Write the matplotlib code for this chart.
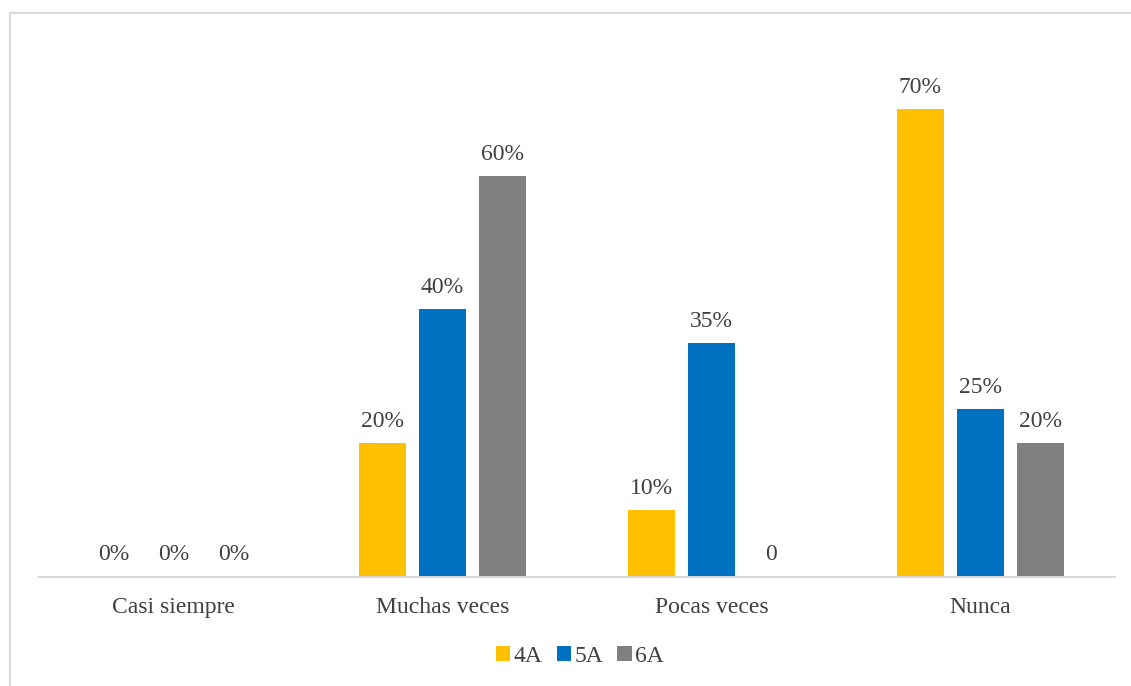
import numpy as np
import matplotlib.pyplot as plt
from matplotlib.lines import Line2D

categories = ["Casi siempre", "Muchas veces", "Pocas veces", "Nunca"]
series = ["4A", "5A", "6A"]
val_4a = [0, 20, 10, 70]
val_5a = [0, 40, 35, 25]
val_6a = [0, 60, 0, 20]
labels_4a = ["0%", "20%", "10%", "70%"]
labels_5a = ["0%", "40%", "35%", "25%"]
labels_6a = ["0%", "60%", "0", "20%"]

colors = ["#FFC000", "#0070C0", "#808080"]
text_color = "#404040"

plt.rcParams['font.family'] = ['Liberation Serif', 'DejaVu Serif']

W, H = 1131, 686
fig = plt.figure(figsize=(W / 100, H / 100), dpi=100)
ax = fig.add_axes([39 / W, 1 - 576.5 / H, (1115 - 39) / W, (576.5 - 42) / H])

x = np.arange(len(categories))
width = 47 / 269
step = 60 / 269

for i, (vals, labs) in enumerate(zip([val_4a, val_5a, val_6a], [labels_4a, labels_5a, labels_6a])):
    pos = x + (i - 1) * step
    bars = ax.bar(pos, vals, width, color=colors[i], label=series[i], zorder=2)
    ax.bar_label(bars, labels=labs, padding=8, fontsize=17, color=text_color)

ax.set_xlim(-0.5, len(categories) - 0.5)
ax.set_ylim(0, 80)
ax.set_yticks([])
ax.set_xticks(x)
ax.set_xticklabels(categories, fontsize=17, color=text_color)
ax.tick_params(axis='x', length=0, pad=15)
for side in ['top', 'right', 'left']:
    ax.spines[side].set_visible(False)
ax.spines['bottom'].set_color("#D9D9D9")
ax.spines['bottom'].set_linewidth(1.5)

leg = fig.legend(loc='center', bbox_to_anchor=(580 / W, 1 - 656 / H), ncol=3, frameon=False,
                 fontsize=17, handlelength=0.6, handleheight=0.6, handletextpad=0.15,
                 columnspacing=0.6)
for t in leg.get_texts():
    t.set_color(text_color)

# outer frame (top and left edges visible)
fig.add_artist(Line2D([9.5 / W, 1], [1 - 12.5 / H, 1 - 12.5 / H], color="#D9D9D9", lw=1.5,
                      transform=fig.transFigure))
fig.add_artist(Line2D([9.5 / W, 9.5 / W], [0, 1 - 12.5 / H], color="#D9D9D9", lw=1.5,
                      transform=fig.transFigure))

fig.savefig("out.png", dpi=100)
